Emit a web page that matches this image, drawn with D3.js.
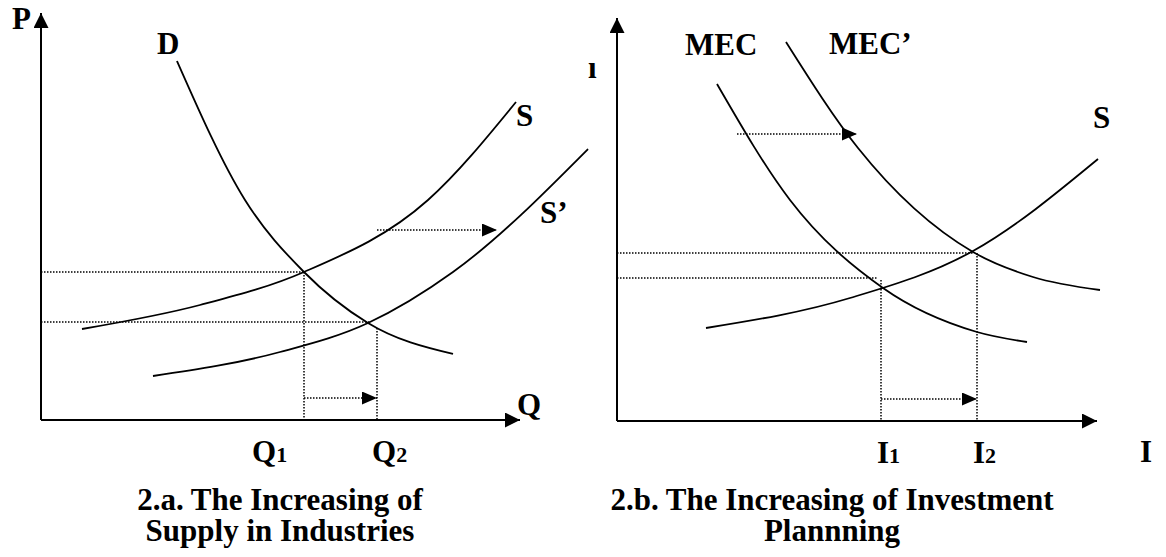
<!DOCTYPE html>
<html>
<head>
<meta charset="utf-8">
<script src="https://cdn.jsdelivr.net/npm/d3@7"></script>
<style>
  html, body { margin: 0; padding: 0; background: #fff; }
  svg { display: block; }
  text { font-family: "Liberation Serif", "Times New Roman", serif; font-weight: bold; fill: #000; }
</style>
</head>
<body>
<svg id="chart" width="1166" height="557"></svg>
<script>
// ---------- Data (in each panel's own units; origin = axis corner) ----------
// Panel a: quantity (Q) vs price (P)
const demandD   = [[136,359],[204,220],[263,148],[327,97],[412,66]];
const supplyS   = [[41,91],[159,115],[263,148],[387,220],[475,318]];
const supplyS2  = [[112,44],[239,68],[327,97],[412,148],[547,271]];
const eqA1 = [263,148];   // D x S  -> Q1
const eqA2 = [327,99];    // D x S' -> Q2
const q2Line = 336;       // Q2 guide position
const shiftArrowA_low  = {y: 22,  from: 263, to: 336};
const shiftArrowA_high = {y: 190, from: 336, to: 456};
const axisA = {xMax: 479, yMax: 407};

// Panel b: investment (I) vs interest rate (i)
const mecCurve  = [[100,337],[173,221],[266,133],[360,89],[410,79]];
const mec2Curve = [[169,379],[241,273],[356,169],[416,144],[483,131]];
const savingS   = [[89,93],[233,123],[356,170],[481,262]];
const eqB1 = [264,143];   // MEC x S  -> I1
const eqB2 = [360,168];   // MEC' x S -> I2
const shiftArrowB_low  = {y: 22,  from: 264, to: 360};
const shiftArrowB_high = {y: 287, from: 120, to: 240};
const axisB = {xMax: 480, yMax: 403};

// Labels
const labelsA = {y: "P", x: "Q", d: "D", s: "S", s2: "S\u2019", q1: ["Q","1"], q2: ["Q","2"],
  title: ["2.a. The Increasing of", "Supply in Industries"]};
const labelsB = {y: "\u0131", x: "I", mec: "MEC", mec2: "MEC\u2019", s: "S", i1: ["I","1"], i2: ["I","2"],
  title: ["2.b. The Increasing of Investment", "Plannning"]};

// ---------- Drawing ----------
const svg = d3.select("#chart");
const defs = svg.append("defs");
defs.append("marker").attr("id","axisHead")
  .attr("viewBox","0 0 15 15").attr("refX",15).attr("refY",7.5)
  .attr("markerWidth",15).attr("markerHeight",15)
  .attr("markerUnits","userSpaceOnUse").attr("orient","auto")
  .append("path").attr("d","M0,0L15,7.5L0,15Z").attr("fill","#000");
defs.append("marker").attr("id","dotHead")
  .attr("viewBox","0 0 15 13").attr("refX",15).attr("refY",6.5)
  .attr("markerWidth",15).attr("markerHeight",13)
  .attr("markerUnits","userSpaceOnUse").attr("orient","auto")
  .append("path").attr("d","M0,0L15,6.5L0,13Z").attr("fill","#000");

const FS = 31, SUB = 22;

function panel(cfg) {
  const x = d3.scaleLinear().domain([0, 480]).range([cfg.x0, cfg.x0 + 480]);
  const y = d3.scaleLinear().domain([0, cfg.y0]).range([cfg.y0, 0]);
  const g = svg.append("g");
  const line = d3.line().x(d => x(d[0])).y(d => y(d[1])).curve(d3.curveMonotoneX);

  // axes
  g.append("line").attr("x1", x(0)).attr("y1", y(0)).attr("x2", x(0)).attr("y2", y(cfg.axis.yMax))
    .attr("stroke","#000").attr("stroke-width",2).attr("marker-end","url(#axisHead)");
  g.append("line").attr("x1", x(0)).attr("y1", y(0)).attr("x2", x(cfg.axis.xMax)).attr("y2", y(0))
    .attr("stroke","#000").attr("stroke-width",2).attr("marker-end","url(#axisHead)");

  // dotted guides
  const dot = (x1,y1,x2,y2,arrow) => {
    const l = g.append("line").attr("x1", x(x1)).attr("y1", y(y1)).attr("x2", x(x2)).attr("y2", y(y2))
      .attr("stroke","#000").attr("stroke-width",1.5).attr("stroke-dasharray","1.5 1.5");
    if (arrow) l.attr("marker-end","url(#dotHead)");
  };
  cfg.guides.forEach(a => dot(...a));

  // curves
  cfg.curves.forEach(c => {
    g.append("path").attr("d", line(c)).attr("fill","none").attr("stroke","#000").attr("stroke-width",1.8);
  });

  // labels
  cfg.labels.forEach(l => {
    const t = g.append("text").attr("x", x(l.x)).attr("y", y(l.y))
      .attr("font-size", FS).attr("text-anchor", l.anchor || "start");
    if (l.lines) {
      l.lines.forEach((s, i) => t.append("tspan").attr("x", x(l.x)).attr("dy", i ? 31 : 0).text(s));
    } else if (Array.isArray(l.text)) {
      t.append("tspan").text(l.text[0]);
      t.append("tspan").attr("font-size", SUB).text(l.text[1]);
    } else t.text(l.text);
  });
  return {x, y};
}

panel({
  x0: 41, y0: 420, axis: axisA,
  curves: [demandD, supplyS, supplyS2],
  guides: [
    [0, eqA1[1], eqA1[0], eqA1[1]],
    [0, eqA2[1]-1, eqA2[0]+2, eqA2[1]-1],
    [eqA1[0], eqA1[1], eqA1[0], 0],
    [q2Line, eqA2[1]-7, q2Line, 0],
    [shiftArrowA_low.from, shiftArrowA_low.y, shiftArrowA_low.to, shiftArrowA_low.y, true],
    [shiftArrowA_high.from, shiftArrowA_high.y, shiftArrowA_high.to, shiftArrowA_high.y, true]
  ],
  labels: [
    {text: labelsA.y, x: -29, y: 391},
    {text: labelsA.d, x: 116, y: 366},
    {text: labelsA.s, x: 475, y: 294},
    {text: labelsA.s2, x: 499, y: 197},
    {text: labelsA.x, x: 476, y: 5},
    {text: labelsA.q1, x: 211, y: -42},
    {text: labelsA.q2, x: 331, y: -42},
    {lines: labelsA.title, x: 239, y: -90, anchor: "middle"}
  ]
});

panel({
  x0: 617, y0: 421, axis: axisB,
  curves: [mecCurve, mec2Curve, savingS],
  guides: [
    [0, eqB2[1], eqB2[0]-4, eqB2[1]],
    [0, eqB1[1], eqB1[0]-3, eqB1[1]],
    [eqB1[0], eqB1[1]-2, eqB1[0], 0],
    [eqB2[0], eqB2[1], eqB2[0], 0],
    [shiftArrowB_low.from, shiftArrowB_low.y, shiftArrowB_low.to, shiftArrowB_low.y, true],
    [shiftArrowB_high.from, shiftArrowB_high.y, shiftArrowB_high.to, shiftArrowB_high.y, true]
  ],
  labels: [
    {text: labelsB.y, x: -29, y: 343},
    {text: labelsB.mec, x: 68, y: 366},
    {text: labelsB.mec2, x: 212, y: 367},
    {text: labelsB.s, x: 476, y: 293},
    {text: labelsB.x, x: 523, y: -41},
    {text: labelsB.i1, x: 260, y: -42},
    {text: labelsB.i2, x: 356, y: -42},
    {lines: labelsB.title, x: 215, y: -89, anchor: "middle"}
  ]
});
</script>
</body>
</html>
